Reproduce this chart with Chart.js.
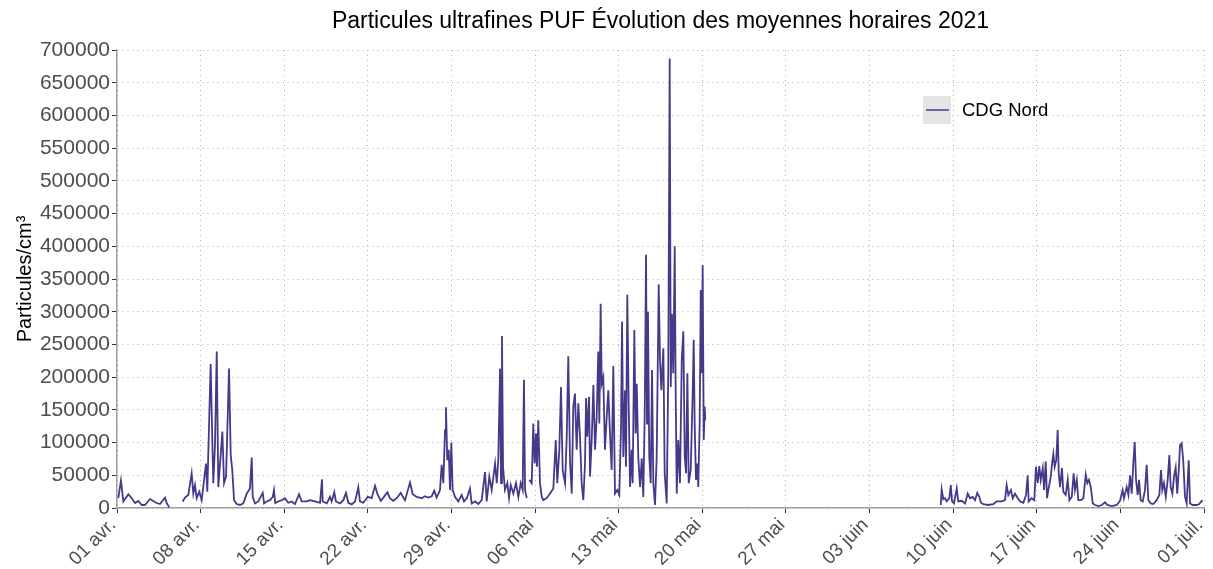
<!DOCTYPE html>
<html>
<head>
<meta charset="utf-8">
<title>Particules ultrafines PUF</title>
<script src="https://cdn.jsdelivr.net/npm/chart.js@4/dist/chart.umd.min.js"></script>
<style>
    body { margin: 0; background: #ffffff; }
    #pufChart { display: block; }
</style>
</head>
<body>
<canvas id="pufChart" width="1213" height="569"></canvas>
<script>
// jours comptés depuis le 01 avr. 2021, valeurs en particules/cm3
var joursDebutAvril = [0.11, 0.33, 0.53, 0.95, 1.23, 1.51, 1.78, 2.07, 2.34, 2.76, 3.04, 3.32, 3.60, 4.02, 4.16, 4.38];
var pufDebutAvril = [15000, 42000, 10000, 21000, 15000, 7600, 10700, 4600, 4600, 13700, 10700, 7600, 6000, 15700, 7600, 1000];

var joursAvril = [5.50, 5.69, 5.97, 6.25, 6.39, 6.53, 6.67, 6.89, 7.09, 7.22, 7.45, 7.56, 7.84, 8.06, 8.20, 8.35, 8.48, 8.68, 8.82, 8.96,
    9.13, 9.38, 9.52, 9.65, 9.80, 10.02, 10.30, 10.57, 10.86, 11.13, 11.28, 11.36, 11.55, 11.83, 12.20, 12.31, 12.53, 12.81, 13.04, 13.14,
    13.25, 13.50, 13.79, 14.06, 14.34, 14.63, 14.90,
    15.24, 15.46, 15.88, 16.16, 16.58, 17.00, 17.16, 17.22, 17.56, 17.83, 17.97, 18.19, 18.33, 18.67, 18.95, 19.17, 19.37, 19.65, 19.93, 20.20,
    20.34, 20.62, 20.99, 21.32, 21.60, 21.79, 22.08, 22.35, 22.63, 22.85, 23.13, 23.42, 23.75, 24.11, 24.53, 24.76, 25.09, 25.51, 25.78, 26.06,
    26.35, 26.56, 26.76, 27.04, 27.18, 27.32, 27.46, 27.54, 27.65, 27.77, 27.88, 27.99, 28.10, 28.30, 28.57, 28.86, 29.05, 29.28, 29.55, 29.69,
    29.97, 30.25, 30.53, 30.81, 30.95, 31.17,
    31.37, 31.65, 31.79, 31.92, 32.07, 32.15, 32.23, 32.32, 32.48, 32.68, 32.82, 32.96, 33.18, 33.40, 33.60, 33.80, 33.96, 34.07, 34.16, 34.30];
var pufAvril = [10000, 16000, 20000, 53000, 22000, 35000, 15000, 25000, 12000, 32000, 68000, 25000, 220000, 38000, 94000, 239000, 32000, 81000, 117000, 38000,
    48000, 213000, 81000, 58000, 12000, 6000, 4600, 7000, 22000, 30000, 77000, 17000, 7000, 10000, 23000, 7000, 10000, 12000, 17000, 27500,
    7600, 10000, 12000, 15000, 8000, 10000, 6000,
    21000, 10000, 10000, 12000, 10000, 8000, 44000, 10000, 7000, 17000, 10000, 24000, 10000, 7000, 12000, 23000, 8000, 5600, 10000, 31600,
    10000, 8000, 17000, 15000, 34000, 22000, 11000, 17000, 24000, 15000, 11000, 15000, 23000, 12000, 39000, 21000, 17000, 15000, 18000, 16000,
    18000, 26500, 16000, 27500, 66000, 38000, 119000, 154000, 73000, 89000, 27500, 100000, 27500, 17000, 10000, 20000, 10000, 15000, 30000, 7000,
    10000, 6000, 12000, 55000, 10000, 48000,
    27500, 68000, 38000, 73000, 213000, 38000, 263000, 63000, 27500, 38000, 15000, 35000, 22000, 38000, 17000, 38000, 27500, 196000, 27500, 15000];

var joursMai = [34.52, 34.72, 34.85, 34.97, 35.08, 35.16, 35.27, 35.41, 35.56, 35.69,
    35.97, 36.25, 36.53, 36.73, 36.86, 37.03, 37.17, 37.31, 37.51, 37.65,
    37.78, 37.93, 38.07, 38.20, 38.34, 38.48, 38.62, 38.76, 38.90, 39.04,
    39.18, 39.27, 39.37, 39.52, 39.60, 39.74, 39.88, 40.02, 40.16, 40.29,
    40.38, 40.49, 40.58, 40.71, 40.85, 41.00, 41.13, 41.27, 41.41, 41.55,
    41.69, 41.88, 42.05, 42.19, 42.28, 42.39, 42.53, 42.61, 42.72, 42.84,
    42.95, 43.09, 43.17, 43.31, 43.42, 43.51, 43.64, 43.79, 43.93, 44.06,
    44.18, 44.29, 44.37, 44.45, 44.56, 44.68, 44.79, 44.90, 45.04, 45.18,
    45.35, 45.46, 45.57, 45.74, 45.85, 46.02, 46.15, 46.27, 46.36, 46.46,
    46.57, 46.69, 46.77, 46.86, 46.99, 47.13, 47.28, 47.41, 47.53, 47.64,
    47.75, 47.86, 48.03, 48.20, 48.28, 48.36, 48.47, 48.58, 48.66, 48.78,
    48.87, 48.95, 49.03, 49.12, 49.20, 49.25];
var pufMai = [43000, 38000, 129000, 68000, 114000, 63000, 134000, 38000, 17000, 12000,
    15000, 22000, 30000, 104000, 38000, 89000, 185000, 58000, 38000, 109000,
    232000, 68000, 22000, 155000, 175000, 89000, 160000, 109000, 38000, 12000,
    68000, 168000, 109000, 170000, 48000, 104000, 188000, 89000, 140000, 239000,
    129000, 312000, 190000, 200000, 89000, 140000, 180000, 114000, 58000, 217000,
    22000, 27500, 20000, 119000, 285000, 78000, 180000, 63000, 326000, 155000,
    32000, 89000, 38000, 272000, 114000, 190000, 78000, 32000, 76000, 17000,
    145000, 387000, 129000, 300000, 78000, 38000, 211000, 38000, 4600, 78000,
    342000, 226000, 180000, 244000, 53000, 7000, 206000, 687000, 185000, 297000,
    206000, 400000, 180000, 22000, 104000, 38000, 226000, 270000, 78000, 53000,
    206000, 38000, 58000, 180000, 257000, 129000, 43000, 68000, 32000, 129000,
    333000, 206000, 371000, 104000, 155000, 134000];

var joursJuin = [68.96, 69.04, 69.18, 69.32, 69.46, 69.68, 69.80, 69.91, 70.07, 70.30,
    70.43, 70.72, 71.00, 71.22, 71.41, 71.64, 71.83, 72.02, 72.19, 72.33,
    72.52, 72.94, 73.36, 73.65, 74.06, 74.34, 74.48, 74.62, 74.84, 74.99,
    75.18, 75.37, 75.60, 75.88, 76.10, 76.24, 76.32, 76.57, 76.79, 76.93,
    77.08, 77.21, 77.33, 77.50, 77.61, 77.75, 77.86, 77.97, 78.17, 78.30,
    78.39, 78.50, 78.63, 78.75, 78.84, 78.95, 79.11, 79.22, 79.42, 79.59,
    79.73, 79.93, 80.09, 80.20, 80.35, 80.48, 80.71, 80.90, 81.10, 81.23,
    81.37, 81.52, 81.69, 81.88, 82.16, 82.44, 82.72, 82.91, 83.28, 83.69,
    83.97, 84.19, 84.30, 84.53, 84.67, 84.81, 84.95, 85.08, 85.20, 85.31,
    85.45, 85.56, 85.70, 85.87, 86.06, 86.20, 86.34, 86.54, 86.76, 87.04,
    87.26, 87.40, 87.51, 87.65, 87.80, 87.96, 88.10, 88.21, 88.35, 88.49,
    88.63, 88.76, 88.90, 88.99, 89.13, 89.26, 89.41, 89.55, 89.72, 89.83,
    90.05, 90.39, 90.61, 90.81, 90.89];
var pufJuin = [4600, 28500, 13300, 15000, 10000, 15000, 35000, 10000, 7000, 30000,
    10000, 11000, 7000, 22000, 15000, 17000, 12000, 23000, 17000, 8000,
    6000, 4600, 6000, 10000, 10000, 12000, 35000, 20000, 27500, 15000,
    22000, 16000, 10000, 8000, 20000, 50000, 10000, 15000, 12000, 63000,
    38000, 64000, 43000, 61000, 27500, 71000, 15000, 27500, 48000, 71000,
    83000, 63000, 73000, 119000, 53000, 32000, 61000, 25000, 20000, 43000,
    12000, 17000, 53000, 27500, 43000, 12000, 12000, 15000, 51000, 38000,
    43000, 32000, 7000, 4600, 3000, 4600, 8700, 4600, 3000, 4600,
    11000, 27500, 15000, 32000, 20000, 50000, 22000, 68000, 101000, 43000,
    20000, 43000, 12000, 10000, 27500, 66000, 12000, 7000, 6000, 12000,
    20000, 58000, 27500, 38000, 17000, 43000, 81000, 32000, 22000, 48000,
    62000, 22000, 62000, 96000, 99000, 73000, 17000, 7000, 73000, 7000,
    4600, 4600, 6000, 11000, 10000];

var etiquettesDates = ["01 avr.", "08 avr.", "15 avr.", "22 avr.", "29 avr.", "06 mai", "13 mai",
    "20 mai", "27 mai", "03 juin", "10 juin", "17 juin", "24 juin", "01 juil."];

var couleurSerie = "#453a8a";
var policeTexte = "'Liberation Sans', Arial, sans-serif";

// assemble les périodes, avec une coupure (y null) entre chacune
var periodes = [
    [joursDebutAvril, pufDebutAvril],
    [joursAvril, pufAvril],
    [joursMai, pufMai],
    [joursJuin, pufJuin]
];
var points = [];
for (var p = 0; p < periodes.length; p++) {
    var jours = periodes[p][0], valeurs = periodes[p][1];
    if (p > 0) {
        var finPrec = periodes[p - 1][0][periodes[p - 1][0].length - 1];
        points.push({x: (finPrec + jours[0]) / 2, y: null});
    }
    for (var i = 0; i < jours.length; i++) {
        points.push({x: jours[i], y: valeurs[i]});
    }
}

var legendeCDG = {
    id: "legendeCDG",
    afterDraw: function (chart) {
        var ctx = chart.ctx;
        var area = chart.chartArea;
        var x = area.right - 281;
        var y = area.top + 46;
        ctx.save();
        ctx.fillStyle = "#e5e5e5";
        ctx.fillRect(x, y, 28, 28);
        ctx.strokeStyle = couleurSerie;
        ctx.lineWidth = 1.5;
        ctx.beginPath();
        ctx.moveTo(x + 3, y + 14);
        ctx.lineTo(x + 26, y + 14);
        ctx.stroke();
        ctx.fillStyle = "#000000";
        ctx.font = "18.5px " + policeTexte;
        ctx.textBaseline = "middle";
        ctx.fillText(chart.data.datasets[0].label, x + 39, y + 15);
        ctx.restore();
    }
};

var ctx = document.getElementById("pufChart").getContext("2d");
var chart = new Chart(ctx, {
    type: "line",
    data: {
        datasets: [
            {
                label: "CDG Nord",
                data: points,
                borderColor: couleurSerie,
                borderWidth: 1.8,
                pointRadius: 0,
                tension: 0,
                spanGaps: false
            }
        ]
    },
    options: {
        responsive: false,
        animation: false,
        devicePixelRatio: 1,
        layout: {
            padding: {left: 0, right: 9, top: 0, bottom: 0}
        },
        plugins: {
            legend: {display: false},
            tooltip: {enabled: false},
            title: {
                display: true,
                text: "Particules ultrafines PUF Évolution des moyennes horaires 2021",
                color: "#000000",
                fullSize: false,
                font: {family: policeTexte, size: 23, weight: "normal", lineHeight: 1.2},
                padding: {top: 8, bottom: 14.4}
            }
        },
        scales: {
            x: {
                type: "linear",
                min: 0,
                max: 91,
                afterFit: function (scale) {
                    scale.height = 61;
                    scale.paddingRight = 0;
                },
                ticks: {
                    stepSize: 7,
                    autoSkip: false,
                    maxRotation: 45,
                    minRotation: 45,
                    padding: 1,
                    labelOffset: -4,
                    color: "#4d4d4d",
                    font: {family: policeTexte, size: 19},
                    callback: function (value) {
                        return etiquettesDates[Math.round(value / 7)];
                    }
                },
                grid: {
                    color: "#b0b0b0",
                    lineWidth: 1,
                    tickLength: 5,
                    tickColor: "#333333",
                    tickBorderDash: []
                },
                border: {
                    color: "#a0a0a0",
                    width: 1.5,
                    dash: [1, 4]
                }
            },
            y: {
                min: 0,
                max: 700000,
                afterFit: function (scale) {
                    scale.width = 117;
                },
                ticks: {
                    stepSize: 50000,
                    padding: 2,
                    color: "#4d4d4d",
                    font: {family: policeTexte, size: 21},
                    callback: function (value) {
                        return String(value);
                    }
                },
                grid: {
                    color: "#b0b0b0",
                    lineWidth: 1,
                    tickLength: 5,
                    tickColor: "#333333",
                    tickBorderDash: []
                },
                border: {
                    color: "#a0a0a0",
                    width: 1.5,
                    dash: [1, 4]
                },
                title: {
                    display: true,
                    text: "Particules/cm³",
                    color: "#000000",
                    font: {family: policeTexte, size: 20},
                    padding: {top: 13, bottom: 0}
                }
            }
        }
    },
    plugins: [legendeCDG]
});
</script>
</body>
</html>
